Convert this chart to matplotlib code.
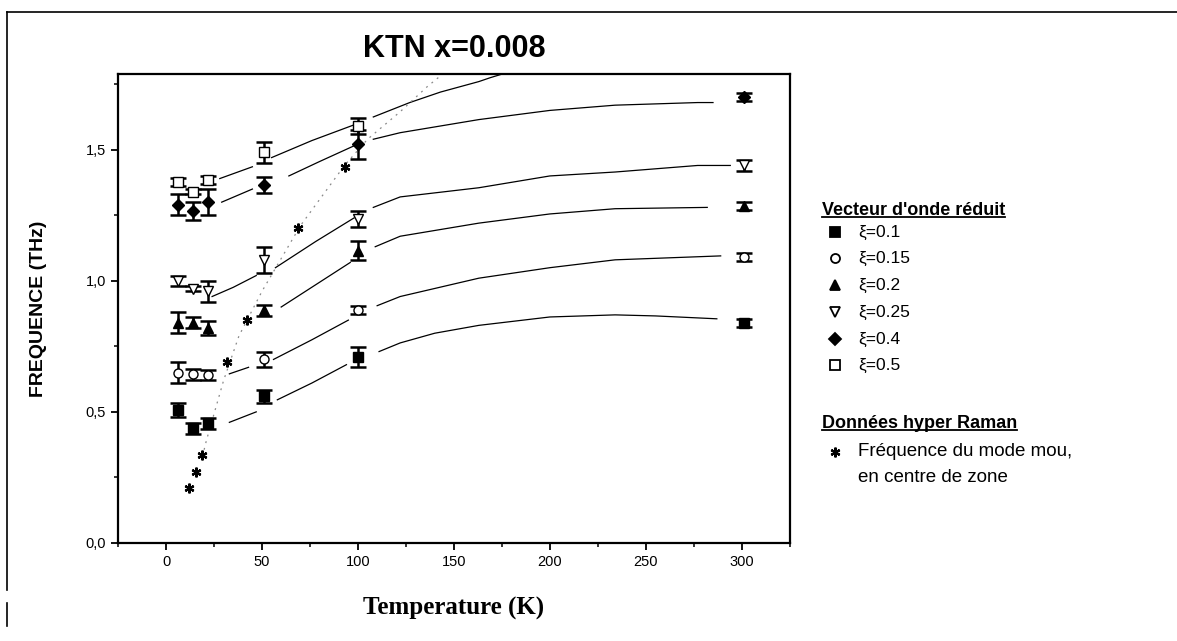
import numpy as np
import matplotlib
matplotlib.use("Agg")
import matplotlib.pyplot as plt
from matplotlib.lines import Line2D

plt.rcParams['font.family'] = ['Liberation Sans', 'DejaVu Sans']

# measured temperatures (K)
temps = [6, 14, 22, 51, 100, 301]

# frequencies (THz) and error bars for each reduced wave vector
xi_labels = ['ξ=0.1', 'ξ=0.15', 'ξ=0.2', 'ξ=0.25', 'ξ=0.4', 'ξ=0.5']
f_01 = [0.507, 0.437, 0.456, 0.559, 0.71, 0.84]
e_01 = [0.027, 0.02, 0.02, 0.025, 0.038, 0.015]
f_015 = [0.65, 0.643, 0.64, 0.70, 0.89, 1.09]
e_015 = [0.04, 0.02, 0.018, 0.03, 0.015, 0.015]
f_02 = [0.84, 0.84, 0.82, 0.887, 1.115, 1.285]
e_02 = [0.04, 0.02, 0.025, 0.02, 0.035, 0.015]
f_025 = [1.00, 0.97, 0.96, 1.08, 1.235, 1.44]
e_025 = [0.02, 0.01, 0.04, 0.05, 0.03, 0.02]
f_04 = [1.29, 1.267, 1.30, 1.366, 1.52, 1.70]
e_04 = [0.04, 0.035, 0.05, 0.03, 0.055, 0.015]
t_05 = [6, 14, 22, 51, 100]
f_05 = [1.378, 1.34, 1.385, 1.49, 1.59]
e_05 = [0.015, 0.01, 0.015, 0.04, 0.03]

# hyper Raman soft mode (zone centre)
t_hr = [12, 15.5, 18.6, 32, 42, 69, 93]
f_hr = [0.21, 0.27, 0.336, 0.69, 0.85, 1.20, 1.435]

# fitted curves (nan = gap)
nan = np.nan
c01_t = [33, 47, nan, 58, 76, 94, nan, 111, 122, 140, 163, 200, 234, 255, 287]
c01_f = [0.46, 0.50, nan, 0.546, 0.61, 0.68, nan, 0.73, 0.763, 0.80, 0.83, 0.862, 0.87, 0.866, 0.855]
c015_t = [33, 43, nan, 56, 76, 95, nan, 110, 122, 163, 200, 234, 289]
c015_f = [0.645, 0.67, nan, 0.70, 0.775, 0.85, nan, 0.905, 0.94, 1.01, 1.05, 1.08, 1.095]
c02_t = [60, 78, 96, nan, 109, 122, 163, 200, 234, 282]
c02_f = [0.90, 0.985, 1.07, nan, 1.13, 1.17, 1.22, 1.255, 1.275, 1.28]
c025_t = [24, 35, 47, nan, 57, 78, 98, nan, 108, 122, 163, 200, 234, 277, 294]
c025_f = [0.94, 0.975, 1.02, nan, 1.05, 1.15, 1.24, nan, 1.28, 1.32, 1.355, 1.40, 1.415, 1.44, 1.44]
c04_t = [29, 45, nan, 64, 80, 98, nan, 108, 122, 163, 200, 234, 277, 285]
c04_f = [1.30, 1.35, nan, 1.40, 1.455, 1.515, nan, 1.54, 1.565, 1.615, 1.65, 1.67, 1.68, 1.68]
c05_t = [28, 45, nan, 55, 76, 98, nan, 108, 127, 143, 163, 169, 178]
c05_f = [1.39, 1.435, nan, 1.47, 1.535, 1.595, nan, 1.625, 1.68, 1.72, 1.76, 1.775, 1.795]
chr_t = [19, 21, 30, 38, 50, 60, 70, 80, 93, 105, 122, 136, 146]
chr_f = [0.33, 0.39, 0.62, 0.79, 0.96, 1.085, 1.21, 1.31, 1.44, 1.54, 1.645, 1.74, 1.80]

fig = plt.figure(figsize=(11.77, 6.41), dpi=100)
ax = fig.add_axes([0.1003, 0.153, 0.5707, 0.732])

series = [
    (temps, f_01, e_01, dict(marker='s', mfc='k')),
    (temps, f_015, e_015, dict(marker='o', mfc='white')),
    (temps, f_02, e_02, dict(marker='^', mfc='k')),
    (temps, f_025, e_025, dict(marker='v', mfc='white')),
    (temps, f_04, e_04, dict(marker='D', mfc='k', ms=6)),
    (t_05, f_05, e_05, dict(marker='s', mfc='white')),
]
for t, f, e, st in series:
    ms = st.pop('ms', 6.5)
    ax.errorbar(t, f, yerr=e, fmt='none', ecolor='k', elinewidth=1.8,
                capsize=6, capthick=1.8, zorder=3)
    ax.plot(t, f, linestyle='none', mec='k', mew=1.0, ms=ms, zorder=4, **st)

for ct, cf in [(c01_t, c01_f), (c015_t, c015_f), (c02_t, c02_f),
               (c025_t, c025_f), (c04_t, c04_f), (c05_t, c05_f)]:
    ax.plot(ct, cf, color='k', lw=0.9, zorder=2)

ax.plot(chr_t, chr_f, color='#8a8a8a', lw=0.9, linestyle=(0, (1.5, 4)), zorder=2)
ax.plot(t_hr, f_hr, linestyle='none', marker=(6, 2, 0), ms=7, mec='k', mew=1.6, zorder=4)

ax.set_xlim(-23, 323)
ax.set_ylim(0, 1.79)
ax.set_xticks([0, 50, 100, 150, 200, 250, 300])
ax.set_xticks(np.arange(-25, 326, 25), minor=True)
ax.set_yticks([0, 0.5, 1.0, 1.5])
ax.set_yticks(np.arange(0, 1.8, 0.25), minor=True)
ax.set_yticklabels(['0,0', '0,5', '1,0', '1,5'])
ax.tick_params(direction='out', length=5, width=1.3, labelsize=10.5)
ax.tick_params(which='minor', direction='out', length=3, width=1.1)
for sp in ax.spines.values():
    sp.set_linewidth(1.6)

ax.set_ylabel('FREQUENCE (THz)', fontsize=14, fontweight='bold', labelpad=28)
ax.set_xlabel('Temperature (K)', fontsize=18, fontweight='bold',
              family='Liberation Serif', labelpad=20)
ax.set_title('KTN x=0.008', fontsize=22, fontweight='bold', pad=12)

# legend drawn by hand, as in the original
W, H = 1177, 641
def fx(px):
    return px / W
def fy(py):
    return 1 - py / H

headers = []
headers.append(fig.text(fx(822), fy(210), "Vecteur d'onde réduit", fontsize=13,
                        fontweight='bold', va='center'))
leg_markers = [('s', 'k'), ('o', 'white'), ('^', 'k'), ('v', 'white'), ('D', 'k'), ('s', 'white')]
row_y = [232, 258, 285, 312, 339, 365]
for (m, fc), lab, yy in zip(leg_markers, xi_labels, row_y):
    fig.add_artist(Line2D([fx(835)], [fy(yy)], marker=m, mfc=fc, mec='k', mew=1.3,
                          ms=6.5 if m != 'D' else 6, linestyle='none'))
    fig.text(fx(858), fy(yy), lab, fontsize=12.5, va='center')

headers.append(fig.text(fx(822), fy(423), 'Données hyper Raman', fontsize=13,
                        fontweight='bold', va='center'))
fig.add_artist(Line2D([fx(835)], [fy(452)], marker=(6, 2, 0), ms=7, mec='k', mew=1.6,
                      linestyle='none'))
fig.text(fx(858), fy(452), 'Fréquence du mode mou,', fontsize=13.5, va='center')
fig.text(fx(858), fy(478), 'en centre de zone', fontsize=13.5, va='center')

fig.canvas.draw()
inv = fig.transFigure.inverted()
for h in headers:
    bb = h.get_window_extent().transformed(inv)
    fig.add_artist(Line2D([bb.x0, bb.x1], [bb.y0 + 0.002, bb.y0 + 0.002], color='k', lw=1.3))

# page frame of the scanned figure
fig.add_artist(Line2D([fx(7), 1], [fy(12), fy(12)], color='k', lw=1.2))
fig.add_artist(Line2D([fx(7), fx(7)], [fy(12), fy(590)], color='k', lw=1.2))
fig.add_artist(Line2D([fx(7), fx(7)], [fy(603), fy(626)], color='k', lw=1.2))

fig.savefig('out.png', dpi=100)
